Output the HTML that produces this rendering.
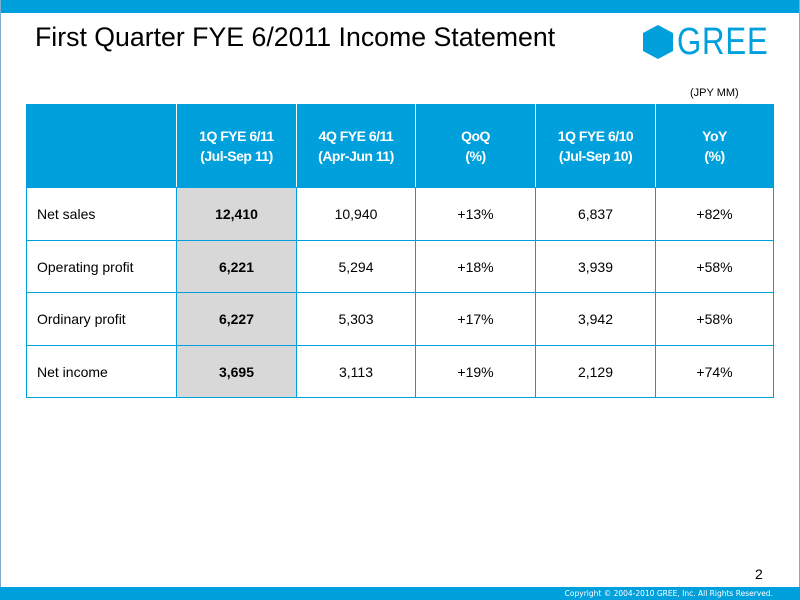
<!DOCTYPE html>
<html><head><meta charset="utf-8"><style>
body{margin:0;width:800px;height:600px;position:relative;background:#fff;font-family:"Liberation Sans",Arial,sans-serif;overflow:hidden}
.top{position:absolute;left:0;top:0;width:800px;height:13px;background:#00a0dc}
.bot{position:absolute;left:0;top:587px;width:800px;height:13px;background:#00a0dc;color:#fff;font-size:8px;text-align:right;line-height:13px}
.bot span{margin-right:27px;font-family:"DejaVu Sans",sans-serif;font-size:7.5px}
.lb{position:absolute;top:0;left:0;width:1px;height:600px;background:#7aaed0}
.rb{position:absolute;top:0;right:0;width:1px;height:600px;background:#7aaed0}
.title{position:absolute;left:35px;top:22px;font-size:26.7px;color:#000}
.gree{position:absolute;left:677px;top:21px;font-size:38px;color:#00a0dc;letter-spacing:1px;transform:scaleX(0.82);transform-origin:left}
.unit{position:absolute;left:690px;top:87px;font-size:11px}
table{position:absolute;left:26px;top:104px;border-collapse:collapse;font-size:14px}
td{border:1px solid #00a0dc;text-align:center;padding:0}
tr.h td{background:#00a0dc;color:#fff;font-weight:bold;height:82px;border-left:1px solid #fff;border-right:1px solid #fff;line-height:20px;font-size:14px;letter-spacing:-0.5px}
tr.h td:first-child{border-left:1px solid #00a0dc}
tr.h td:last-child{border-right:1px solid #00a0dc}
tr.a td{height:52px}
tr.b td{height:51px}
tr.r td:first-child{text-align:left;padding-left:10px}
td.g{background:#d8d8d8;font-weight:bold}
.pg{position:absolute;left:755px;top:566px;font-size:14px}
</style></head><body>
<div class="top"></div><div class="lb"></div><div class="rb"></div>
<div class="title">First Quarter FYE 6/2011 Income Statement</div>
<svg style="position:absolute;left:642px;top:24px" width="32" height="36"><polygon points="16,1 31,9 31,27 16,35 1,27 1,9" fill="#00a0dc"/></svg>
<div class="gree">GREE</div>
<div class="unit">(JPY MM)</div>
<table>
<colgroup><col style="width:150px"><col style="width:120px"><col style="width:119px"><col style="width:120px"><col style="width:120px"><col style="width:118px"></colgroup>
<tr class="h"><td></td><td>1Q FYE 6/11<br>(Jul-Sep 11)</td><td>4Q FYE 6/11<br>(Apr-Jun 11)</td><td>QoQ<br>(%)</td><td>1Q FYE 6/10<br>(Jul-Sep 10)</td><td>YoY<br>(%)</td></tr>
<tr class="r a"><td>Net sales</td><td class="g">12,410</td><td>10,940</td><td>+13%</td><td>6,837</td><td>+82%</td></tr>
<tr class="r b"><td>Operating profit</td><td class="g">6,221</td><td>5,294</td><td>+18%</td><td>3,939</td><td>+58%</td></tr>
<tr class="r a"><td>Ordinary profit</td><td class="g">6,227</td><td>5,303</td><td>+17%</td><td>3,942</td><td>+58%</td></tr>
<tr class="r b"><td>Net income</td><td class="g">3,695</td><td>3,113</td><td>+19%</td><td>2,129</td><td>+74%</td></tr>
</table>
<div class="pg">2</div>
<div class="bot"><span>Copyright © 2004-2010 GREE, Inc. All Rights Reserved.</span></div>
</body></html>
